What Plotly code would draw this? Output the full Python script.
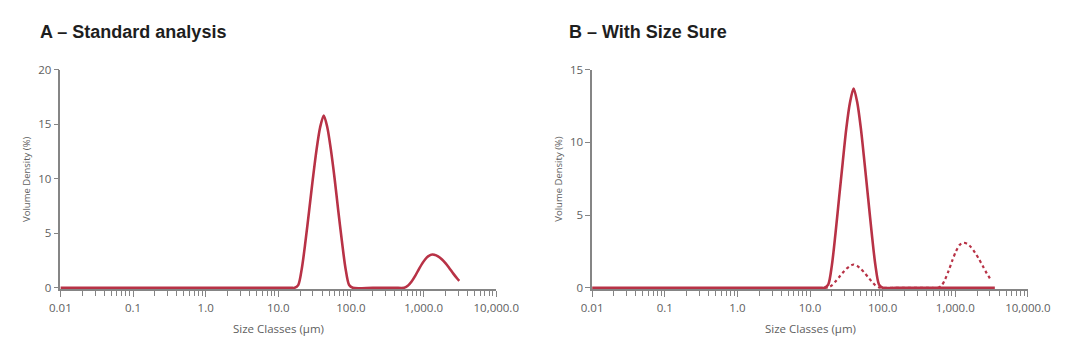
import plotly.graph_objects as go

# ---------------- data ----------------
# Panel A – Standard analysis (solid line)
size_a = [0.01, 0.1, 1, 10, 15, 16.8, 18.8, 21.1, 23.7, 26.6, 29.9, 33.5, 37.6, 42.2,
          47.3, 53.1, 59.6, 66.8, 75.0, 84.1, 94.4, 105.9, 200, 400,
          540, 600, 680, 770, 870, 980, 1110, 1250, 1320, 1400, 1580, 1780, 2000, 2250,
          2550, 2900, 3100]
vol_a = [0, 0, 0, 0, 0, 0, 0.25, 1.8, 4.3, 7.1, 10.0, 12.6, 14.7, 15.8,
         14.7, 12.6, 10.0, 7.1, 4.3, 1.8, 0.25, 0, 0, 0,
         0, 0.16, 0.56, 1.12, 1.76, 2.33, 2.79, 3.02, 3.05, 3.03, 2.89, 2.62, 2.26, 1.82,
         1.32, 0.85, 0.63]

# Panel B – With Size Sure, solid line
size_b_solid = [0.01, 0.1, 1, 10, 14, 15.8, 17.8, 20.0, 22.4, 25.1, 28.2, 31.6, 35.5, 39.8,
                44.7, 50.1, 56.2, 63.1, 70.8, 79.4, 89.1, 100, 150, 300, 1000, 3500]
vol_b_solid = [0, 0, 0, 0, 0, 0, 0.22, 1.56, 3.73, 6.17, 8.63, 10.96, 12.74, 13.7,
               12.74, 10.96, 8.63, 6.17, 3.73, 1.56, 0.22, 0, 0, 0, 0, 0]

# Panel B – dotted line
size_b_dot = [15.8, 17.8, 20.0, 22.4, 25.1, 28.2, 31.6, 35.5, 39.8, 44.7, 50.1, 56.2, 63.1,
              70.8, 79.4, 89.1, 100,
              150, 400, 570, 640, 720, 810, 910, 1020, 1150, 1290, 1450, 1650, 1870, 2120,
              2400, 2720, 3100]
vol_b_dot = [0, 0.03, 0.17, 0.43, 0.73, 1.03, 1.3, 1.5, 1.6, 1.5, 1.3, 1.03, 0.73,
             0.43, 0.17, 0.03, 0,
             0, 0, 0, 0.13, 0.55, 1.18, 1.88, 2.5, 2.95, 3.1, 3.03, 2.79, 2.42, 1.97,
             1.48, 0.98, 0.53]

x_tick_vals = [0.01, 0.1, 1, 10, 100, 1000, 10000]
x_tick_text = ["0.01", "0.1", "1.0", "10.0", "100.0", "1,000.0", "10,000.0"]
y_ticks_a = [0, 5, 10, 15, 20]
y_ticks_b = [0, 5, 10, 15]

titles = ["A \u2013 Standard analysis", "B \u2013 With Size Sure"]
x_title = "Size Classes (\u00b5m)"
y_title = "Volume Density (%)"

# ---------------- styling ----------------
W, H = 1080, 353
RED = "#b83246"
AXC = "#858585"
TXT = "#606060"
FONT = "Open Sans"

minor_vals = [m * 10 ** e for e in range(-2, 4) for m in range(2, 10)]


def px_x(p):
    return p / W


def px_y(p):
    return 1 - p / H


fig = go.Figure()

line_kw = dict(shape="spline", smoothing=0.8)

fig.add_trace(go.Scatter(x=size_a, y=vol_a, mode="lines", xaxis="x", yaxis="y",
                         line=dict(color=RED, width=2.6, **line_kw), showlegend=False))
fig.add_trace(go.Scatter(x=size_b_dot, y=vol_b_dot, mode="lines", xaxis="x2", yaxis="y2",
                         line=dict(color=RED, width=2.2, dash="dot", **line_kw),
                         showlegend=False))
fig.add_trace(go.Scatter(x=size_b_solid, y=vol_b_solid, mode="lines", xaxis="x2", yaxis="y2",
                         line=dict(color=RED, width=2.6, **line_kw), showlegend=False))

y_top, y_bot = 64, 292.2
dom_y = [px_y(y_bot), px_y(y_top)]

xaxis_common = dict(
    type="log", range=[-2, 4], showline=True, linecolor=AXC, linewidth=1.5,
    showgrid=False, zeroline=False, ticks="outside", ticklen=6, tickwidth=1.3,
    tickcolor=AXC, tickvals=x_tick_vals, ticktext=x_tick_text,
    tickfont=dict(family=FONT, size=11.5, color=TXT), ticklabelstandoff=1,
    minor=dict(ticks="outside", ticklen=4.5, tickwidth=1.3, tickcolor=AXC,
               tickvals=minor_vals, showgrid=False),
)
yaxis_common = dict(
    showline=True, linecolor=AXC, linewidth=1.5, showgrid=False, zeroline=False,
    ticks="outside", ticklen=5, tickwidth=1.3, tickcolor=AXC,
    tickfont=dict(family=FONT, size=11.5, color=TXT),
)

fig.update_layout(
    width=W, height=H, margin=dict(l=0, r=0, t=0, b=0),
    paper_bgcolor="white", plot_bgcolor="white",
    font=dict(family=FONT, color=TXT),
    xaxis=dict(domain=[px_x(51), px_x(501)], anchor="y", **xaxis_common),
    yaxis=dict(domain=dom_y, anchor="x", range=[-0.15, 20], tickvals=y_ticks_a,
               **yaxis_common),
    xaxis2=dict(domain=[px_x(600), px_x(1050)], anchor="y2", **xaxis_common),
    yaxis2=dict(domain=dom_y, anchor="x2", range=[-0.113, 15], tickvals=y_ticks_b,
                **yaxis_common),
)

ann = []
for x0, t in [(28, titles[0]), (574, titles[1])]:
    ann.append(dict(x=px_x(x0), y=px_y(25), xref="paper", yref="paper", text="<b>%s</b>" % t,
                    showarrow=False, xanchor="left", yanchor="middle",
                    font=dict(family="Liberation Sans", size=18, color="#1e1e1e")))
for xc in [276, 825]:
    ann.append(dict(x=px_x(xc), y=px_y(333), xref="paper", yref="paper", text=x_title,
                    showarrow=False, xanchor="center", yanchor="middle",
                    font=dict(family=FONT, size=11.5, color=TXT)))
for xc in [16, 565]:
    ann.append(dict(x=px_x(xc), y=px_y(178), xref="paper", yref="paper", text=y_title,
                    showarrow=False, xanchor="center", yanchor="middle", textangle=-90,
                    font=dict(family=FONT, size=9.5, color=TXT)))
fig.update_layout(annotations=ann)

fig.write_html("out.html")
